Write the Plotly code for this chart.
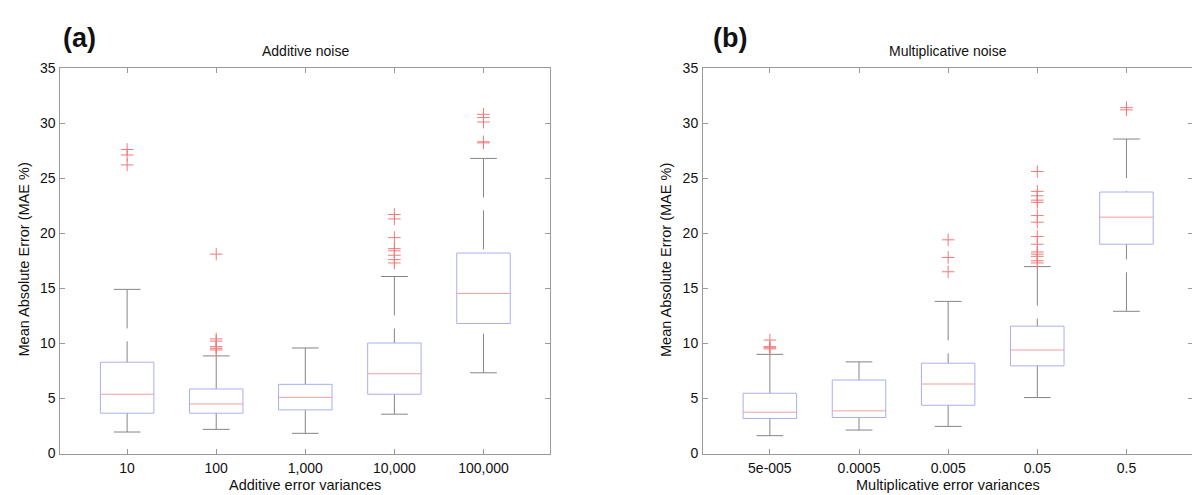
import plotly.graph_objects as go

# ---------------- data ----------------
add_labels = ["10", "100", "1,000", "10,000", "100,000"]
add_q1 = [3.66, 3.66, 3.96, 5.38, 11.8]
add_med = [5.38, 4.50, 5.10, 7.24, 14.53]
add_q3 = [8.29, 5.86, 6.28, 10.03, 18.2]
add_lo = [1.95, 2.19, 1.83, 3.57, 7.33]
add_hi = [14.9, 8.86, 9.58, 16.07, 26.79]
add_out = [
    [27.6, 27.1, 26.2],
    [18.1, 10.4, 10.2, 9.7, 9.55, 9.4],
    [],
    [21.7, 21.3, 19.6, 18.6, 18.4, 18.0, 17.6, 17.3],
    [30.8, 30.5, 30.1, 28.3, 28.2],
]

mul_labels = ["5e-005", "0.0005", "0.005", "0.05", "0.5"]
mul_q1 = [3.18, 3.27, 4.38, 7.96, 19.0]
mul_med = [3.75, 3.87, 6.31, 9.40, 21.46]
mul_q3 = [5.47, 6.67, 8.20, 11.56, 23.74]
mul_lo = [1.62, 2.13, 2.46, 5.08, 12.91]
mul_hi = [9.0, 8.32, 13.81, 16.97, 28.55]
mul_out = [
    [10.3, 9.7, 9.6, 9.5],
    [],
    [19.4, 17.8, 16.5],
    [25.6, 23.8, 23.4, 23.0, 22.8, 21.6, 21.0, 19.7, 19.0, 18.3, 18.1, 17.9, 17.5, 17.3],
    [31.4, 31.2],
]

y_ticks = [0, 5, 10, 15, 20, 25, 30, 35]

# ---------------- style ----------------
W, H = 1200, 495
FONT = "Liberation Sans, Arial, Helvetica, sans-serif"
BOX_C = "#a9aef0"
MED_C = "#f0a0a0"
WHISK_C = "#858585"
OUT_C = "#f07a7a"
AX_C = "#9a9a9a"
HALF_BOX = 0.30
HALF_CAP = 0.15


def px_x(p):
    return p / W


def px_y(p):
    return 1 - p / H


fig = go.Figure()


def add_panel(q1, med, q3, lo, hi, outs, xa, ya):
    n = len(q1)
    bx, by, mx, my, wx, wy, cx, cy, ox, oy = [], [], [], [], [], [], [], [], [], []
    for i in range(n):
        c = i + 1
        bx += [c - HALF_BOX, c + HALF_BOX, c + HALF_BOX, c - HALF_BOX, c - HALF_BOX, None]
        by += [q1[i], q1[i], q3[i], q3[i], q1[i], None]
        mx += [c - HALF_BOX, c + HALF_BOX, None]
        my += [med[i], med[i], None]
        # whiskers drawn from the cap toward the box (dash pattern starts at cap)
        wx += [c, c, None, c, c, None]
        wy += [hi[i], q3[i], None, lo[i], q1[i], None]
        cx += [c - HALF_CAP, c + HALF_CAP, None, c - HALF_CAP, c + HALF_CAP, None]
        cy += [hi[i], hi[i], None, lo[i], lo[i], None]
        for v in outs[i]:
            ox.append(c)
            oy.append(v)
    common = dict(xaxis=xa, yaxis=ya, showlegend=False, hoverinfo="skip")
    fig.add_trace(go.Scatter(x=wx, y=wy, mode="lines",
                             line=dict(color=WHISK_C, width=1, dash="39px,13px"), **common))
    fig.add_trace(go.Scatter(x=cx, y=cy, mode="lines",
                             line=dict(color=WHISK_C, width=1), **common))
    fig.add_trace(go.Scatter(x=bx, y=by, mode="lines",
                             line=dict(color=BOX_C, width=1), **common))
    fig.add_trace(go.Scatter(x=mx, y=my, mode="lines",
                             line=dict(color=MED_C, width=1), **common))
    fig.add_trace(go.Scatter(x=ox, y=oy, mode="markers",
                             marker=dict(symbol="cross-thin", size=9,
                                         color=OUT_C, line=dict(width=1, color=OUT_C)),
                             **common))


add_panel(add_q1, add_med, add_q3, add_lo, add_hi, add_out, "x", "y")
add_panel(mul_q1, mul_med, mul_q3, mul_lo, mul_hi, mul_out, "x2", "y2")

y_dom = [px_y(445.5), px_y(60)]
ax_common = dict(
    showline=True, mirror="ticks", linecolor=AX_C, linewidth=1,
    ticks="inside", ticklen=5, tickcolor=AX_C, tickwidth=1,
    showgrid=False, zeroline=False, automargin=False,
    tickfont=dict(family=FONT, size=14, color="#111111"),
)

fig.update_layout(
    width=W, height=H,
    margin=dict(l=0, r=0, t=0, b=0),
    paper_bgcolor="white", plot_bgcolor="white",
    xaxis=dict(domain=[px_x(52.3), px_x(542.3)], range=[0.25, 5.75],
               tickvals=[1, 2, 3, 4, 5], ticktext=add_labels, anchor="y",
               ticklabelstandoff=2, **ax_common),
    yaxis=dict(domain=y_dom, range=[0, 35], tickvals=y_ticks, anchor="x",
               ticklabelstandoff=1, **ax_common),
    xaxis2=dict(domain=[px_x(695), px_x(1185.3)], range=[0.25, 5.75],
                tickvals=[1, 2, 3, 4, 5], ticktext=mul_labels, anchor="y2",
                ticklabelstandoff=2, **ax_common),
    yaxis2=dict(domain=y_dom, range=[0, 35], tickvals=y_ticks, anchor="x2",
                ticklabelstandoff=1, **ax_common),
)

ann = []


def text(x, y, s, size, bold=False, angle=0):
    ann.append(dict(
        x=px_x(x), y=px_y(y), xref="paper", yref="paper", text=("<b>%s</b>" % s) if bold else s,
        showarrow=False, xanchor="center", yanchor="middle", textangle=angle,
        font=dict(family=FONT, size=size, color="#111111"),
    ))


# panel letters
text(71.5, 30, "(a)", 27, bold=True)
text(722, 30, "(b)", 27, bold=True)
# titles
text(297, 43, "Additive noise", 14)
text(940, 43, "Multiplicative noise", 14)
# axis titles
text(297, 477, "Additive error variances", 14.5)
text(940, 477, "Multiplicative error variances", 14.5)
text(15.5, 252, "Mean Absolute Error (MAE %)", 14.5, angle=-90)
text(658, 252, "Mean Absolute Error (MAE %)", 14.5, angle=-90)

fig.update_layout(annotations=ann)

fig.write_html("out.html")
